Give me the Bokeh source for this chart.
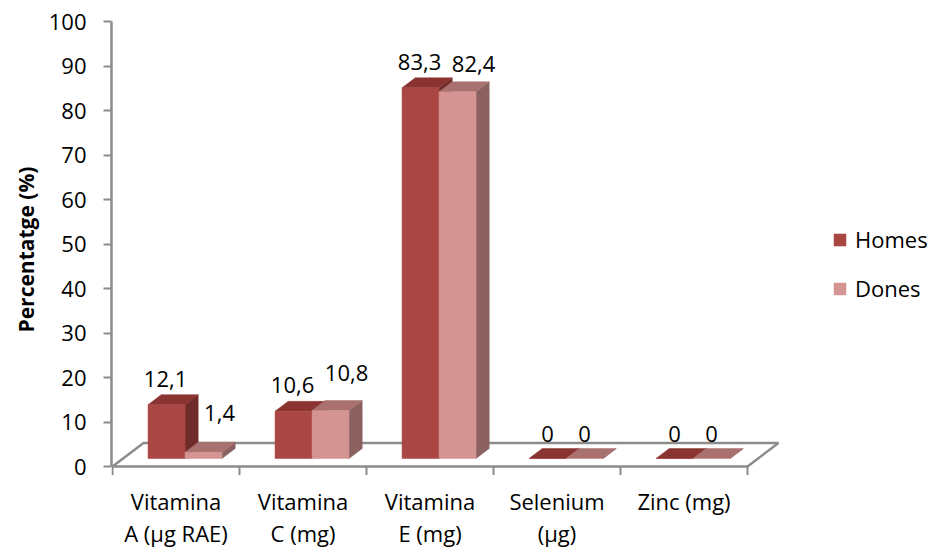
from bokeh.plotting import figure
from bokeh.models import (Range1d, LinearAxis, FixedTicker, Legend, LegendItem,
                          ColumnDataSource, Title)
from bokeh.core.properties import value
from bokeh.embed import file_html
from bokeh.resources import INLINE

# ---------------- data ----------------
categories = ["Vitamina\nA (\u00b5g RAE)", "Vitamina\nC (mg)", "Vitamina\nE (mg)",
              "Selenium\n(\u00b5g)", "Zinc (mg)"]
homes = [12.1, 10.6, 83.3, 0, 0]
dones = [1.4, 10.8, 82.4, 0, 0]
series_names = ["Homes", "Dones"]
y_ticks = [0, 10, 20, 30, 40, 50, 60, 70, 80, 90, 100]
y_title = "Percentatge (%)"

# ---------------- layout ----------------
W, H = 930, 548
LEFT = 111
FRAME_W = W - LEFT
PX_X = 127.0      # pixels per category
PX_Y = 4.45       # pixels per percentage unit
ZERO_Y = 466      # canvas y of value 0
FONT = "Open Sans"
FS = "22px"
GRAY = "#8c8c8c"

x_start = -1.0 / PX_X
x_range = Range1d(x_start, x_start + FRAME_W / PX_X)
y_range = Range1d(-(H - ZERO_Y) / PX_Y, ZERO_Y / PX_Y)

p = figure(width=W, height=H, x_range=x_range, y_range=y_range,
           output_backend="svg", toolbar_location=None,
           x_axis_location=None, y_axis_location=None,
           min_border_left=LEFT, min_border_right=0, min_border_top=0,
           min_border_bottom=0)
p.outline_line_color = None
p.background_fill_color = "white"
p.border_fill_color = "white"
p.grid.visible = False

# 3D geometry (in data units)
FDX = 31.0 / PX_X
FDY = 23.5 / PX_Y
BF = 0.34          # depth fraction of bar front plane
BD = 0.425         # bar depth as fraction of floor depth
BW = 37.0 / PX_X
GAP = 25.0 / PX_X
ddx, ddy = BD * FDX, BD * FDY
base = BF * FDY
n = len(categories)

# floor (its front edge is the category axis)
p.patch([0, n, n + FDX, FDX], [0, 0, FDY, FDY], fill_color="white",
        line_color=GRAY, line_width=2.5)
# category boundary ticks
p.segment(x0=list(range(n + 1)), y0=[0] * (n + 1), x1=list(range(n + 1)),
          y1=[-8.5 / PX_Y] * (n + 1), line_color=GRAY, line_width=2)

colors = {
    "Homes": ("#aa4643", "#8a3432", "#6f2b29"),
    "Dones": ("#d49492", "#a8706e", "#8b6160"),
}

front_renderers = {}
for s, (name, vals) in enumerate(zip(series_names, [homes, dones])):
    front_c, top_c, side_c = colors[name]
    lefts = [i + GAP + s * BW + BF * FDX for i in range(n)]
    tops = [base + v for v in vals]
    side_xs = [[l + BW, l + BW + ddx, l + BW + ddx, l + BW] for l in lefts]
    side_ys = [[base, base + ddy, t + ddy, t] for t in tops]
    top_xs = [[l, l + BW, l + BW + ddx, l + ddx] for l in lefts]
    top_ys = [[t, t, t + ddy, t + ddy] for t in tops]
    p.patches(side_xs, side_ys, fill_color=side_c, line_color=side_c, line_width=0.5)
    p.patches(top_xs, top_ys, fill_color=top_c, line_color=top_c, line_width=0.5)
    src = ColumnDataSource(dict(left=lefts, right=[l + BW for l in lefts],
                                bottom=[base] * n, top=tops))
    front_renderers[name] = p.quad(left="left", right="right", bottom="bottom",
                                   top="top", source=src, fill_color=front_c,
                                   line_color=front_c, line_width=0.5)

# value labels (placed above each bar, Dones labels nudged right like the original)
lab_x, lab_y, lab_t = [], [], []
for s, vals in enumerate([homes, dones]):
    for i, v in enumerate(vals):
        cx = i + GAP + s * BW + BF * FDX + BW / 2
        t = base + v
        if v == 0:
            dx, dy = 0, 25
        elif s == 0:
            dx, dy = -1, 26
        else:
            dx, dy = 16, 39 - 0.13 * v
        lab_x.append(cx + dx / PX_X)
        lab_y.append(t + dy / PX_Y)
        lab_t.append("0" if v == 0 else f"{v:.1f}".replace(".", ","))
p.text(x=lab_x, y=lab_y, text=lab_t, text_align="center", text_baseline="middle",
       text_font=value(FONT), text_font_size=FS, text_color="black")

# category labels (two lines each)
first = [c.split("\n")[0] for c in categories]
second = [c.split("\n")[1] if "\n" in c else "" for c in categories]
centers = [i + 0.5 for i in range(n)]
p.text(x=centers, y=[-34 / PX_Y] * n, text=first, text_align="center",
       text_baseline="middle", text_font=value(FONT), text_font_size=FS,
       text_color="black")
p.text(x=centers, y=[-66 / PX_Y] * n, text=second, text_align="center",
       text_baseline="middle", text_font=value(FONT), text_font_size=FS,
       text_color="black")

# y axis
yax = LinearAxis(ticker=FixedTicker(ticks=y_ticks, minor_ticks=[]), bounds=(0, 100))
yax.axis_line_color = GRAY
yax.axis_line_width = 2.5
yax.major_tick_line_color = GRAY
yax.major_tick_line_width = 2
yax.major_tick_out = 8
yax.major_tick_in = 0
yax.minor_tick_line_color = None
yax.major_label_standoff = 17
yax.major_label_text_font = FONT
yax.major_label_text_font_size = FS
yax.major_label_text_color = "black"
p.add_layout(yax, "left")

# y axis title, placed so that it is centred on the 0-100 span of the axis
p.add_layout(Title(text=y_title, align="left", offset=(H - 332),
                   text_font=FONT, text_font_style="bold", text_font_size="21px",
                   text_color="black", standoff=11), "left")

legend = Legend(items=[LegendItem(label=nm, renderers=[front_renderers[nm]])
                       for nm in series_names],
                location=(721, 245), orientation="vertical",
                glyph_width=15, glyph_height=15, label_standoff=8, spacing=19,
                padding=0, margin=0, border_line_color=None,
                background_fill_alpha=0, label_text_font=FONT,
                label_text_font_size=FS, label_text_color="black")
p.add_layout(legend)

open("out.html", "w").write(file_html(p, INLINE))
